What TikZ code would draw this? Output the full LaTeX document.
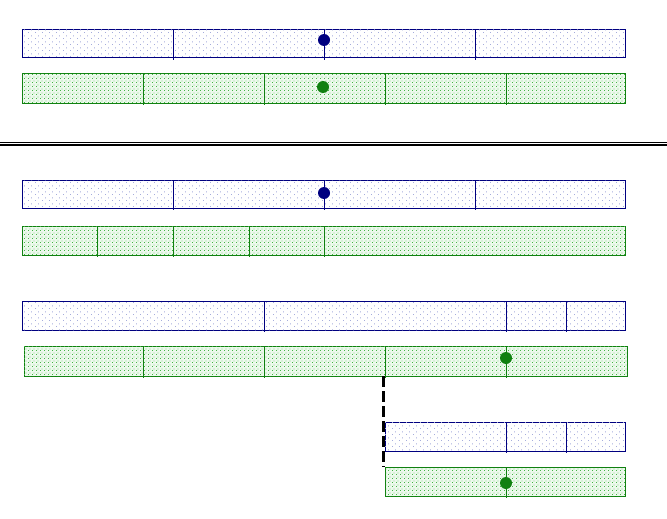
\documentclass[tikz,border=0pt]{standalone}
\usetikzlibrary{patterns.meta}

\definecolor{barblue}{RGB}{0,0,128}
\definecolor{bargreen}{RGB}{16,128,16}
\definecolor{dotblue}{RGB}{165,172,220}
\definecolor{dotgreen}{RGB}{70,180,70}
\definecolor{fillgreen}{RGB}{236,249,236}

\tikzdeclarepattern{
  name=finedots,
  type=uncolored,
  bounding box={(0pt,0pt) and (4pt,4pt)},
  tile size={(4pt,4pt)},
  code={
    \fill (0pt,0pt) rectangle (1pt,1pt);
    \fill (2pt,2pt) rectangle (3pt,3pt);
  }
}
\tikzdeclarepattern{
  name=sparsedots,
  type=uncolored,
  bounding box={(0pt,0pt) and (7pt,6pt)},
  tile size={(7pt,6pt)},
  code={
    \fill (0pt,0pt) rectangle (1pt,1pt);
    \fill (3.5pt,3pt) rectangle (4.5pt,4pt);
  }
}

\tikzset{
  bar/.style={rectangle,anchor=north west,inner sep=0pt,outer sep=0pt,line width=1pt},
  bluebar/.style={bar,draw=barblue,fill=white,postaction={pattern=sparsedots,pattern color=dotblue}},
  greenbar/.style={bar,draw=bargreen,fill=fillgreen,postaction={pattern=finedots,pattern color=dotgreen}},
  bluediv/.style={draw=barblue,line width=1pt},
  greendiv/.style={draw=bargreen,line width=1pt},
  bluedot/.style={circle,fill=barblue,inner sep=0pt,minimum size=12pt},
  greendot/.style={circle,fill=bargreen,inner sep=0pt,minimum size=12pt},
  cutline/.style={draw=black,line width=2.2pt,dash pattern=on 11pt off 4pt}
}

\begin{document}
\begin{tikzpicture}[x=1pt,y=1pt]
  \useasboundingbox (0,0) rectangle (667,-519);
  % top pair
  \node[bluebar,minimum width=603pt,minimum height=28pt] (bA) at (22,-30) {};
  \foreach \x in {173,324,475} \draw[bluediv] (\x,-30) -- (\x,-60);
  \node[bluedot] (dA) at (324,-40) {};
  \node[greenbar,minimum width=603pt,minimum height=29pt] (gA) at (22,-74) {};
  \foreach \x in {143,264,385,506} \draw[greendiv] (\x,-74) -- (\x,-105);
  \node[greendot] (eA) at (323,-87) {};
  % separator
  \draw[line width=1.3pt] (0,-142.3) -- (667,-142.3);
  \draw[line width=1.3pt] (0,-145.0) -- (667,-145.0);
  % second pair
  \node[bluebar,minimum width=603pt,minimum height=28pt] (bB) at (22,-180) {};
  \foreach \x in {173,324,475} \draw[bluediv] (\x,-180) -- (\x,-210);
  \node[bluedot] (dB) at (324,-193) {};
  \node[greenbar,minimum width=603pt,minimum height=29pt] (gB) at (22,-226) {};
  \foreach \x in {97,173,249,324} \draw[greendiv] (\x,-226) -- (\x,-257);
  % third pair
  \node[bluebar,minimum width=603pt,minimum height=29pt] (bC) at (22,-301) {};
  \foreach \x in {264,506,566} \draw[bluediv] (\x,-301) -- (\x,-332);
  \node[greenbar,minimum width=603pt,minimum height=30pt] (gC) at (24,-346) {};
  \foreach \x in {143,264,385,506} \draw[greendiv] (\x,-346) -- (\x,-378);
  \node[greendot] (eC) at (506,-358) {};
  % split part
  \node[bluebar,minimum width=240pt,minimum height=29pt] (bD) at (385,-422) {};
  \foreach \x in {506,566} \draw[bluediv] (\x,-422) -- (\x,-453);
  \node[greenbar,minimum width=240pt,minimum height=29pt] (gD) at (385,-467) {};
  \draw[greendiv] (506,-467) -- (506,-498);
  \node[greendot] (eD) at (506,-483) {};
  \coordinate (cut) at (383.5,-376);
  \draw[cutline] (cut) -- (cut |- gD.north);
\end{tikzpicture}
\end{document}
